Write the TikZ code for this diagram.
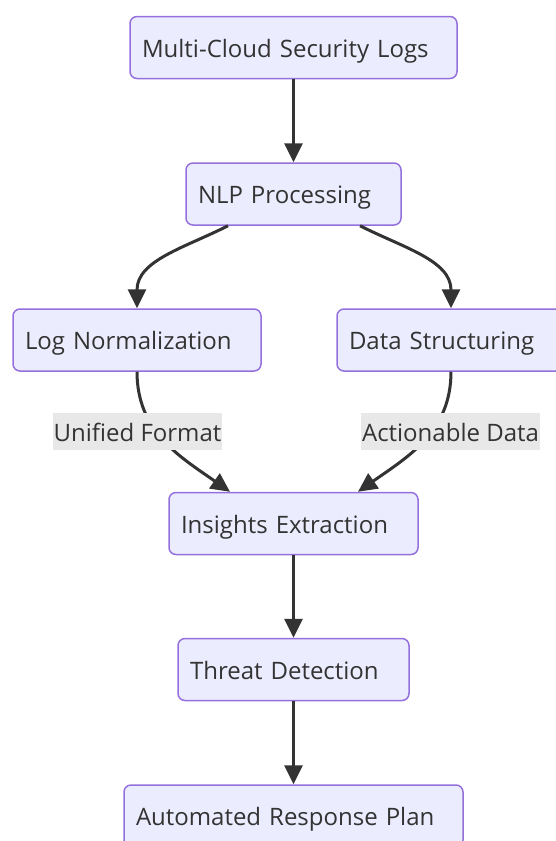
\documentclass[tikz,border=0pt]{standalone}
\usepackage{fontspec}
\setmainfont{Open Sans}
\usepackage{tikz}
\usetikzlibrary{arrows.meta}
\definecolor{boxfill}{HTML}{ECECFF}
\definecolor{boxline}{HTML}{9370DB}
\definecolor{linegrey}{HTML}{333333}
\definecolor{lblfill}{HTML}{E8E8E8}

\begin{document}
\begin{tikzpicture}[x=1pt,y=1pt]
		\tikzset{box/.style={draw=boxline,fill=boxfill,line width=1.5pt,rounded corners=7pt,inner xsep=12pt,minimum height=62pt,align=left,text height=19pt,text depth=0pt,text=linegrey,font=\fontsize{24}{29}\selectfont}}
		\tikzset{lbl/.style={fill=lblfill,inner xsep=1pt,inner ysep=0pt,minimum height=37pt,text height=20pt,text depth=0pt,text=linegrey,font=\fontsize{24}{29}\selectfont}}
		\tikzset{flow/.style={-{Triangle[length=19pt,width=18pt]},line width=3pt,draw=linegrey}}
		\useasboundingbox (0,0) rectangle (556,-841);
		\clip (0,0) rectangle (556,-841);

		\node (1) at (293.5,-47.5) [box,text width=303pt] {Multi-Cloud Security Logs};
		\node (2) at (293.5,-194) [box,text width=191pt] {NLP Processing};
		\node (3) at (137,-340) [box,text width=224pt] {Log Normalization};
		\node (4) at (451,-340) [box,text width=204pt] {Data Structuring};
		\node (5) at (293.5,-523.5) [box,text width=225pt] {Insights Extraction};
		\node (6) at (293.5,-669.5) [box,text width=207pt] {Threat Detection};
		\node (7) at (293.5,-816) [box,text width=315pt] {Automated Response Plan};

		%Flechas
		\draw[flow] (1) -- (2);
		\draw[flow] ([xshift=-65.5pt]2.south) to[out=207,in=90] (3.north);
		\draw[flow] ([xshift=66.5pt]2.south) to[out=-27,in=90] (4.north);
		\draw[flow] (3.south) .. controls +(0,-60) and +(-50,35) .. ([xshift=-63.5pt]5.north);
		\draw[flow] (4.south) .. controls +(0,-60) and +(50,35) .. ([xshift=64.5pt]5.north);
		\draw[flow] (5) -- (6);
		\draw[flow] (6) -- (7);

		\node (8) at (137.5,-431.5) [lbl] {Unified Format};
		\node (9) at (450.5,-431.5) [lbl] {Actionable Data};
	\end{tikzpicture}
\end{document}
